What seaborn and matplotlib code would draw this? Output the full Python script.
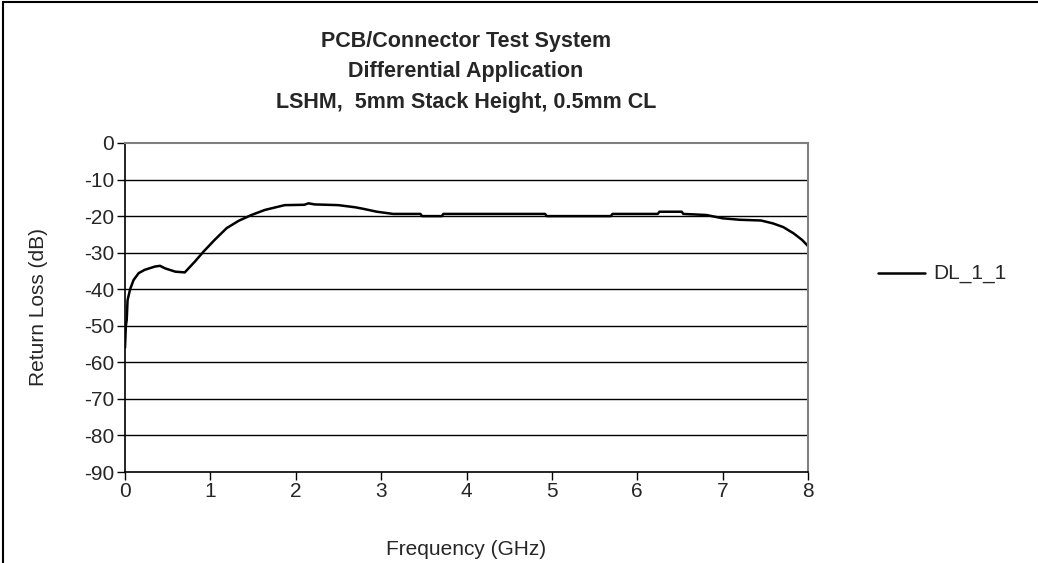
import seaborn as sns
import pandas as pd
from matplotlib import pyplot as plt
from matplotlib.patches import Rectangle

# values
freq_ghz = [0.0, 0.01, 0.02, 0.03, 0.06, 0.10, 0.16, 0.23, 0.35, 0.41, 0.47,
            0.59, 0.70, 0.82, 0.92, 1.05, 1.19, 1.33, 1.48, 1.64, 1.87, 2.10,
            2.15, 2.22, 2.50, 2.70, 2.79, 2.95, 3.14, 3.46, 3.48, 3.71, 3.73,
            4.37, 4.92, 4.94, 5.69, 5.71, 6.24, 6.26, 6.52, 6.54, 6.81, 7.00,
            7.20, 7.45, 7.59, 7.71, 7.83, 7.93, 8.00]
return_loss_db = [-56.0, -50.0, -48.4, -43.0, -40.0, -37.5, -35.6, -34.7, -33.8,
                  -33.6, -34.3, -35.2, -35.4, -32.4, -29.7, -26.5, -23.3, -21.3,
                  -19.7, -18.3, -17.0, -16.9, -16.5, -16.8, -17.0, -17.6, -18.0,
                  -18.8, -19.4, -19.4, -20.0, -20.0, -19.4, -19.4, -19.4, -20.0,
                  -20.0, -19.4, -19.4, -18.8, -18.8, -19.4, -19.7, -20.6, -21.0,
                  -21.2, -22.0, -23.0, -24.7, -26.5, -28.2]
series_name = "DL_1_1"

df = pd.DataFrame({"Frequency": freq_ghz, "RL": return_loss_db, "Series": series_name})

sns.set_style("white")
plt.rcParams['font.family'] = ['Liberation Sans', 'DejaVu Sans']
plt.rcParams['axes.unicode_minus'] = False

fig = plt.figure(figsize=(10.38, 5.63), dpi=100)
ax = fig.add_axes([125 / 1038, 1 - 472 / 563, (808 - 125) / 1038, (472 - 143) / 563])

sns.lineplot(data=df, x="Frequency", y="RL", hue="Series", palette=["black"],
             linewidth=1.8, ax=ax, legend=False)

ax.set_xlim(0, 8)
ax.set_ylim(-90, 0)
ax.set_xticks(range(0, 9))
ax.set_yticks(range(-90, 1, 10))
for y in range(-80, 0, 10):
    ax.axhline(y, color="black", linewidth=1.0, zorder=0)

ax.tick_params(axis="both", labelsize=15, direction="out", length=6, width=1,
               color="black", left=True, bottom=True, pad=2)
ax.tick_params(axis="x", pad=1)
for side in ["left", "bottom"]:
    ax.spines[side].set_color("black")
    ax.spines[side].set_linewidth(1.2)
for side in ["top", "right"]:
    ax.spines[side].set_color("#808080")
    ax.spines[side].set_linewidth(1.5)

ax.set_xlabel("Frequency (GHz)", fontsize=15, labelpad=28)
ax.set_ylabel("Return Loss (dB)", fontsize=15, labelpad=26)

fig.text(466 / 1038, 1 - 31 / 563,
         "PCB/Connector Test System\nDifferential Application\nLSHM,  5mm Stack Height, 0.5mm CL",
         ha="center", va="top", fontsize=15.5, fontweight="bold", linespacing=1.58)

# legend entry to the right of the plot
leg_line = plt.Line2D([878 / 1038, 925 / 1038], [1 - 273 / 563] * 2,
                      transform=fig.transFigure, color="black", linewidth=1.8)
fig.add_artist(leg_line)
fig.text(933 / 1038, 1 - 273 / 563, series_name, ha="left", va="center", fontsize=15)

# chart border (left and top edges visible)
fig.add_artist(Rectangle((3 / 1038, -0.05), 1.2, 1 - 2 / 563 + 0.05,
                         transform=fig.transFigure, fill=False,
                         edgecolor="black", linewidth=1.5))

fig.savefig("out.png", dpi=100)
